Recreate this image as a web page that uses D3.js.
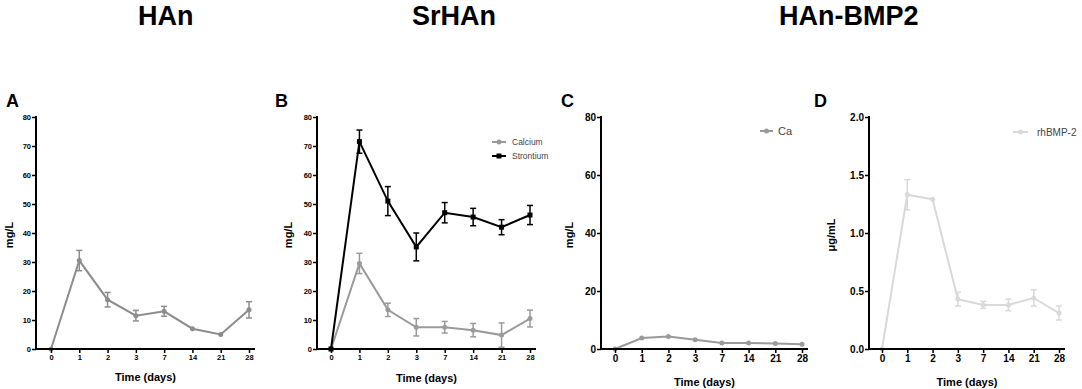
<!DOCTYPE html>
<html>
<head>
<meta charset="utf-8">
<script src="https://cdn.jsdelivr.net/npm/d3@7"></script>
<style>
  body { margin: 0; background: #fff; }
  svg { font-family: "Liberation Sans", Arial, sans-serif; }
</style>
</head>
<body>
<svg id="chart" width="1082" height="389"></svg>
<script>
// time points (days)
const days = ["0", "1", "2", "3", "7", "14", "21", "28"];

// A - HAn, calcium release (mg/L)
const hanCa = [0, 30.5, 17, 11.5, 13, 7, 5, 13.5];
const hanCaSd = [0, 3.5, 2.5, 1.8, 1.7, 0, 0, 2.8];

// B - SrHAn, calcium and strontium (mg/L)
const srhanCa = [0, 29.5, 13.5, 7.5, 7.5, 6.5, 4.8, 10.5];
const srhanCaSd = [0, 3.5, 2.3, 3, 2, 2.3, 4.2, 2.9];
const srhanSr = [0, 71.5, 51, 35.2, 47, 45.5, 42, 46.2];
const srhanSrSd = [0, 4, 5, 4.8, 3.5, 3, 2.6, 3.3];

// C - HAn-BMP2, calcium (mg/L)
const bmpCa = [0, 3.8, 4.3, 3.2, 2.1, 2.1, 1.9, 1.6];

// D - HAn-BMP2, rhBMP-2 (ug/mL)
const bmpRh = [0, 1.33, 1.29, 0.43, 0.38, 0.38, 0.44, 0.31];
const bmpRhSd = [0, 0.13, 0, 0.06, 0.03, 0.05, 0.07, 0.06];

const titles = [
  { text: "HAn", x: 138 },
  { text: "SrHAn", x: 412 },
  { text: "HAn-BMP2", x: 779 }
];

const svg = d3.select("#chart");

svg.selectAll(".title")
  .data(titles)
  .join("text")
  .attr("class", "title")
  .attr("x", d => d.x)
  .attr("y", 25)
  .attr("font-size", 27)
  .attr("font-weight", "bold")
  .text(d => d.text);

function panel(cfg) {
  const g = svg.append("g");
  const x = d3.scalePoint().domain(days).range([cfg.x0, cfg.x1]);
  const y = d3.scaleLinear().domain(cfg.yDomain).range([349, 117]);

  // panel letter
  g.append("text")
    .attr("x", cfg.letterX)
    .attr("y", 107)
    .attr("font-size", 18)
    .attr("font-weight", "bold")
    .text(cfg.letter);

  // series
  cfg.series.forEach(s => {
    const pts = days.map((d, i) => ({ d: d, v: s.values[i], e: s.sd ? s.sd[i] : 0 }));
    const line = d3.line().x(p => x(p.d)).y(p => y(p.v));
    const sg = g.append("g");

    sg.append("path")
      .datum(pts)
      .attr("d", line)
      .attr("fill", "none")
      .attr("stroke", s.color)
      .attr("stroke-width", 2);

    const eb = sg.selectAll(".err")
      .data(pts.filter(p => p.e > 0))
      .join("g")
      .attr("stroke", s.color)
      .attr("stroke-width", 1.5);
    eb.append("line")
      .attr("x1", p => x(p.d)).attr("x2", p => x(p.d))
      .attr("y1", p => y(p.v - p.e)).attr("y2", p => y(p.v + p.e));
    eb.append("line")
      .attr("x1", p => x(p.d) - 3).attr("x2", p => x(p.d) + 3)
      .attr("y1", p => y(p.v + p.e)).attr("y2", p => y(p.v + p.e));
    eb.append("line")
      .attr("x1", p => x(p.d) - 3).attr("x2", p => x(p.d) + 3)
      .attr("y1", p => y(p.v - p.e)).attr("y2", p => y(p.v - p.e));

    if (s.square) {
      sg.selectAll(".mk").data(pts).join("rect")
        .attr("x", p => x(p.d) - 2.5).attr("y", p => y(p.v) - 2.5)
        .attr("width", 5).attr("height", 5)
        .attr("fill", s.color);
    } else {
      sg.selectAll(".mk").data(pts).join("circle")
        .attr("cx", p => x(p.d)).attr("cy", p => y(p.v))
        .attr("r", 2.5)
        .attr("fill", s.color);
    }

    // legend entry
    if (s.legend) {
      const lg = g.append("g").attr("transform", "translate(" + s.legend.x + "," + s.legend.y + ")");
      lg.append("line").attr("x1", 0).attr("x2", s.legend.len)
        .attr("stroke", s.color).attr("stroke-width", 2);
      if (s.square) {
        lg.append("rect").attr("x", s.legend.len / 2 - 2.5).attr("y", -2.5)
          .attr("width", 5).attr("height", 5).attr("fill", s.color);
      } else {
        lg.append("circle").attr("cx", s.legend.len / 2).attr("r", 2.5).attr("fill", s.color);
      }
      lg.append("text")
        .attr("x", s.legend.len + s.legend.gap)
        .attr("dy", "0.35em")
        .attr("font-size", s.legend.size)
        .attr("fill", "#444")
        .text(s.name);
    }
  });

  // axes
  const yAxis = d3.axisLeft(y).tickValues(cfg.yTicks).tickSize(4).tickPadding(1)
    .tickFormat(cfg.yFormat || d3.format("d"));
  const ya = g.append("g")
    .attr("transform", "translate(" + cfg.axisX + ",0)")
    .call(yAxis);
  ya.select(".domain").remove();
  ya.append("line")
    .attr("x1", 0).attr("x2", 0).attr("y1", 116).attr("y2", 350)
    .attr("stroke", "#000").attr("stroke-width", 2);

  const xAxis = d3.axisBottom(x).tickSize(4).tickPadding(2);
  const xa = g.append("g")
    .attr("transform", "translate(0,349)")
    .call(xAxis);
  xa.select(".domain").remove();
  xa.append("line")
    .attr("x1", cfg.axisX - 1).attr("x2", cfg.axisEnd).attr("y1", 0).attr("y2", 0)
    .attr("stroke", "#000").attr("stroke-width", 2);

  [ya, xa].forEach(a => {
    a.selectAll(".tick line").attr("stroke", "#000").attr("stroke-width", 1.5);
    a.selectAll(".tick text")
      .attr("fill", "#000")
      .attr("font-weight", "bold")
      .attr("font-size", cfg.tickSize)
      .attr("font-family", "Liberation Sans, Arial, sans-serif");
  });

  // axis titles
  g.append("text")
    .attr("x", (cfg.axisX + cfg.axisEnd) / 2)
    .attr("y", cfg.xTitleY)
    .attr("text-anchor", "middle")
    .attr("font-size", 11)
    .attr("font-weight", "bold")
    .text("Time (days)");

  g.append("text")
    .attr("transform", "translate(" + cfg.yTitleX + ",235) rotate(-90)")
    .attr("text-anchor", "middle")
    .attr("dy", "0.35em")
    .attr("font-size", 11)
    .attr("font-weight", "bold")
    .text(cfg.yTitle);
}

panel({
  letter: "A", letterX: 6,
  axisX: 36, x0: 51, x1: 249, axisEnd: 255,
  yDomain: [0, 80], yTicks: d3.range(0, 81, 10), tickSize: 7.5,
  xTitleY: 381, yTitleX: 9, yTitle: "mg/L",
  series: [{ name: "Calcium", values: hanCa, sd: hanCaSd, color: "#8c8c8c" }]
});

panel({
  letter: "B", letterX: 275,
  axisX: 317, x0: 331, x1: 530, axisEnd: 536,
  yDomain: [0, 80], yTicks: d3.range(0, 81, 10), tickSize: 7.5,
  xTitleY: 382, yTitleX: 288, yTitle: "mg/L",
  series: [
    { name: "Calcium", values: srhanCa, sd: srhanCaSd, color: "#9a9a9a",
      legend: { x: 492, y: 142, len: 14, gap: 6, size: 8.5 } },
    { name: "Strontium", values: srhanSr, sd: srhanSrSd, color: "#000", square: true,
      legend: { x: 492, y: 156, len: 14, gap: 6, size: 8.5 } }
  ]
});

panel({
  letter: "C", letterX: 561,
  axisX: 601, x0: 615, x1: 802, axisEnd: 808,
  yDomain: [0, 80], yTicks: [0, 20, 40, 60, 80], tickSize: 10,
  xTitleY: 386, yTitleX: 569, yTitle: "mg/L",
  series: [
    { name: "Ca", values: bmpCa, color: "#9a9a9a",
      legend: { x: 760, y: 131, len: 13, gap: 5, size: 11 } }
  ]
});

panel({
  letter: "D", letterX: 814,
  axisX: 869, x0: 882, x1: 1059, axisEnd: 1065,
  yDomain: [0, 2], yTicks: [0, 0.5, 1, 1.5, 2], yFormat: d3.format(".1f"), tickSize: 10,
  xTitleY: 386, yTitleX: 831, yTitle: "μg/mL",
  series: [
    { name: "rhBMP-2", values: bmpRh, sd: bmpRhSd, color: "#d9d9d9",
      legend: { x: 1013, y: 132, len: 15, gap: 9, size: 10 } }
  ]
});
</script>
</body>
</html>
